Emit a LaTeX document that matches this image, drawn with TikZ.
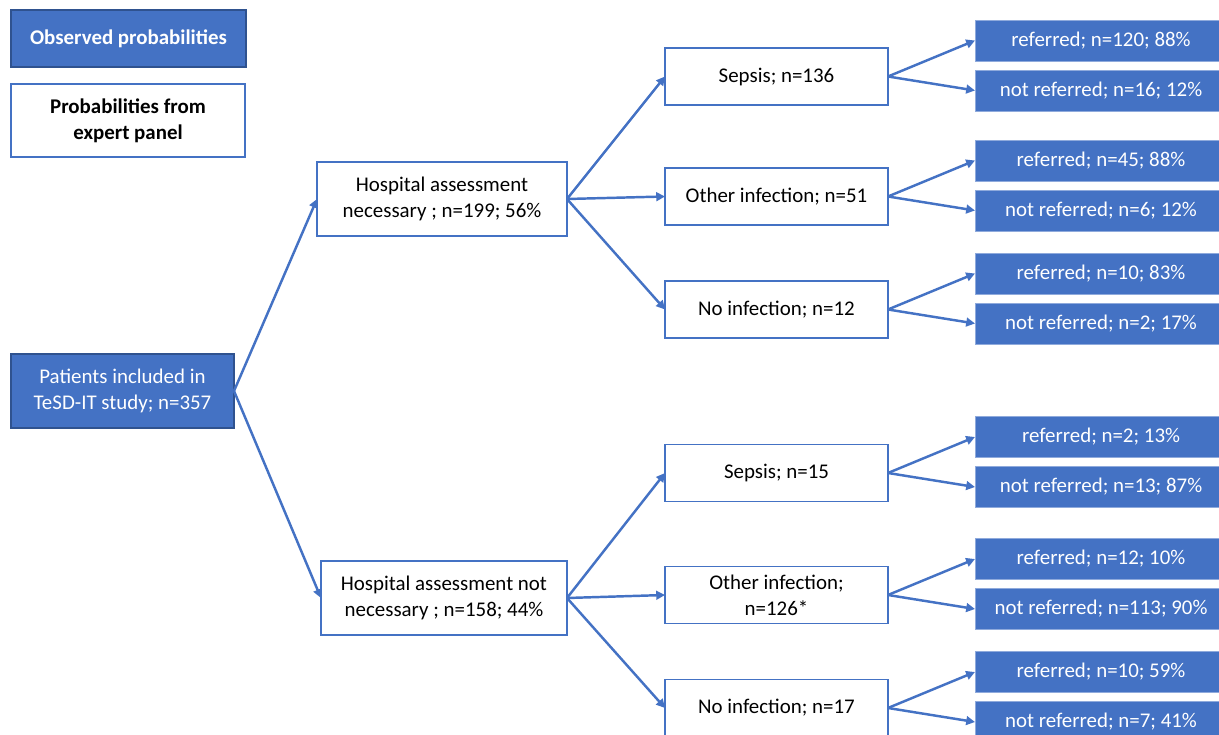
\documentclass[tikz,border=0pt]{standalone}
\usepackage{fontspec}
\setmainfont{Carlito}
\usetikzlibrary{shapes,positioning,arrows.meta}
\definecolor{ofblue}{HTML}{4472C4}
\definecolor{ofdark}{HTML}{2F528F}
\definecolor{ofedge}{HTML}{8FAADC}

\begin{document}
\begin{tikzpicture}[line width=1.1pt, font=\fontsize{11.9}{14.8}\selectfont]
% Box and arrow styles
\tikzstyle{obs}=[draw=ofdark,fill=ofblue,text=white,align=center,outer sep=0pt,minimum width=4.46cm,minimum height=1.48cm]
\tikzstyle{exp}=[draw=ofblue,fill=white,text=black,align=center,outer sep=0pt,minimum width=4.46cm,minimum height=1.14cm]
\tikzstyle{leaf}=[draw=ofedge,line width=.5pt,fill=ofblue,text=white,align=center,outer sep=0pt,anchor=west,minimum width=5.04cm,minimum height=.82cm]
\tikzstyle{arr}=[draw=ofblue,line width=1.4pt,-{Triangle[length=5pt,width=5pt]}]
\tikzstyle{bold}=[font=\fontsize{11.9}{14.8}\selectfont\bfseries]

\clip (0,0) rectangle (24.38,-14.7);
% Legend
\node[obs, bold, minimum width=4.7cm, minimum height=1.14cm] (op) at (2.57,-.77) {Observed probabilities};
\node[exp, bold, minimum width=4.68cm, minimum height=1.46cm] (ep) at (2.56,-2.41) {Probabilities from\\expert panel};

% Blocks
\node[obs] (pat) at (2.45,-7.82) {Patients included in\\TeSD-IT study; n=357};
\node[exp, minimum width=5cm, minimum height=1.48cm] (han) at (8.84,-3.98) {Hospital assessment\\necessary ; n=199; 56\%};
\node[exp, minimum width=4.92cm, minimum height=1.48cm] (hnn) at (8.88,-11.96) {Hospital assessment not\\necessary ; n=158; 44\%};

\node[exp] (sep1) at (15.53,-1.53) {Sepsis; n=136};
\node[exp] (oth1) at (15.53,-3.93) {Other infection; n=51};
\node[exp] (noi1) at (15.53,-6.19) {No infection; n=12};
\node[exp] (sep2) at (15.53,-9.46) {Sepsis; n=15};
\node[exp] (oth2) at (15.53,-11.9) {Other infection;\\n=126*};
\node[exp] (noi2) at (15.53,-14.16) {No infection; n=17};

% Arrows
\draw[arr] (pat.east) -- (han.west);
\draw[arr] (pat.east) -- (hnn.west);
\foreach \i in {sep1,oth1,noi1}
\draw[arr] (han.east) -- (\i.west);
\foreach \i in {sep2,oth2,noi2}
\draw[arr] (hnn.east) -- (\i.west);

% Referral leaves
\foreach \p/\a/\b in {sep1/{referred; n=120; 88\%}/{not referred; n=16; 12\%},
  oth1/{referred; n=45; 88\%}/{not referred; n=6; 12\%},
  noi1/{referred; n=10; 83\%}/{not referred; n=2; 17\%},
  sep2/{referred; n=2; 13\%}/{not referred; n=13; 87\%},
  oth2/{referred; n=12; 10\%}/{not referred; n=113; 90\%},
  noi2/{referred; n=10; 59\%}/{not referred; n=7; 41\%}}{
\node[leaf] (\p-r) at ([xshift=1.74cm,yshift=.72cm]\p.east) {\a};
\node[leaf] (\p-n) at ([xshift=1.74cm,yshift=-.28cm]\p.east) {\b};
\draw[arr] (\p.east) -- (\p-r.west);
\draw[arr] (\p.east) -- (\p-n.west);
}
\end{tikzpicture}
\end{document}
